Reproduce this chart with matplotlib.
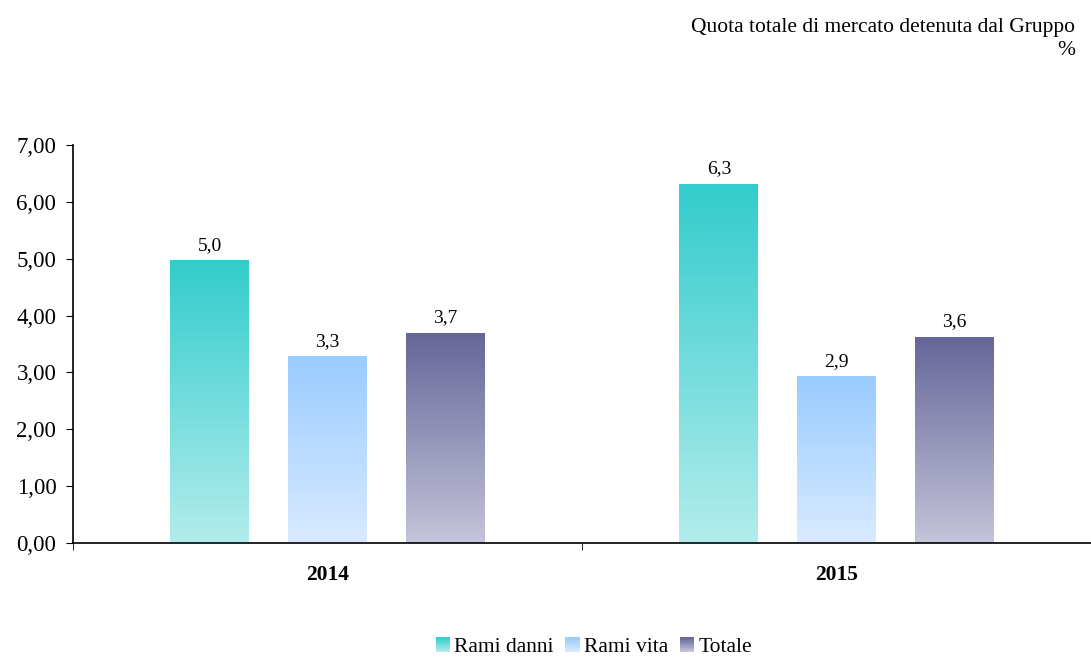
import numpy as np
import matplotlib.pyplot as plt
from matplotlib.colors import to_rgb
from matplotlib.patches import Rectangle
from matplotlib.legend_handler import HandlerBase

plt.rcParams['font.family'] = ['Liberation Serif', 'DejaVu Serif']

years = ["2014", "2015"]
series = ["Rami danni", "Rami vita", "Totale"]
rami_danni = [4.97, 6.31]
rami_vita = [3.28, 2.92]
totale = [3.69, 3.62]
labels_danni = ["5,0", "6,3"]
labels_vita = ["3,3", "2,9"]
labels_totale = ["3,7", "3,6"]

# top colour, bottom colour
colours = [("#33CCCC", "#B3ECEC"), ("#99CCFF", "#D9EAFF"), ("#666699", "#C4C4DA")]


def gradient(top, bottom, n=256):
    t = np.linspace(0, 1, n)[:, None]
    c1 = np.array(to_rgb(top))
    c2 = np.array(to_rgb(bottom))
    return (c1 * (1 - t) + c2 * t)[:, None, :]


class GradientHandler(HandlerBase):
    def __init__(self, top, bottom):
        super().__init__()
        self.top, self.bottom = top, bottom

    def create_artists(self, legend, orig_handle, xdescent, ydescent, width, height, fontsize, trans):
        n = 20
        c1 = np.array(to_rgb(self.top))
        c2 = np.array(to_rgb(self.bottom))
        s = height * 0.95
        x0 = -xdescent + width - s
        y0 = -ydescent
        arts = []
        for i in range(n):
            t = i / (n - 1)
            col = c2 * (1 - t) + c1 * t
            arts.append(Rectangle((x0, y0 + s * i / n), s, s / n + 0.3, facecolor=col,
                                  edgecolor="none", transform=trans))
        return arts


fig = plt.figure(figsize=(10.91, 6.58), dpi=100)
ax = fig.add_axes([0.0669, 0.1748, 0.9331, 0.6048])

x = np.arange(len(years))
width = 0.155
offsets = [-0.231, 0.0, 0.231]
handles = []
for vals, labs, off, (top, bottom), name in zip(
        [rami_danni, rami_vita, totale], [labels_danni, labels_vita, labels_totale],
        offsets, colours, series):
    for xi, v, lab in zip(x, vals, labs):
        ax.imshow(gradient(top, bottom), extent=[xi + off - width / 2, xi + off + width / 2, 0, v],
                  aspect="auto", zorder=2, interpolation="bilinear")
        ax.text(xi + off, v + 0.12, lab, ha="center", va="bottom", fontsize=14)
    h = Rectangle((0, 0), 1, 1, label=name)
    handles.append(h)

ax.set_xlim(-0.5, 1.5)
ax.set_ylim(0, 7)
ax.set_yticks(np.arange(0, 8, 1))
ax.set_yticklabels([f"{v:.2f}".replace(".", ",") for v in np.arange(0, 8, 1)], fontsize=16.5)
ax.set_xticks(x)
ax.set_xticklabels(years, fontsize=15.5, fontweight="bold")
ax.tick_params(axis="x", length=0, pad=16)
ax.set_xticks([-0.5, 0.5], minor=True)
ax.tick_params(axis="x", which="minor", length=5, direction="out")
ax.tick_params(axis="y", length=5, direction="out", pad=7)
for s in ["top", "right"]:
    ax.spines[s].set_visible(False)
for s in ["left", "bottom"]:
    ax.spines[s].set_linewidth(1.2)

fig.text(0.9855, 0.958, "Quota totale di mercato detenuta dal Gruppo", ha="right", va="center", fontsize=15.5)
fig.text(0.9855, 0.924, "%", ha="right", va="center", fontsize=15.5)

handler_map = {h: GradientHandler(t, b) for h, (t, b) in zip(handles, colours)}
fig.legend(handles=handles, loc="center", bbox_to_anchor=(0.545, 0.017), ncol=3, frameon=False,
           fontsize=15.5, handler_map=handler_map, handlelength=0.6, handletextpad=0.2,
           columnspacing=0.6)

fig.savefig("out.png", dpi=100)
